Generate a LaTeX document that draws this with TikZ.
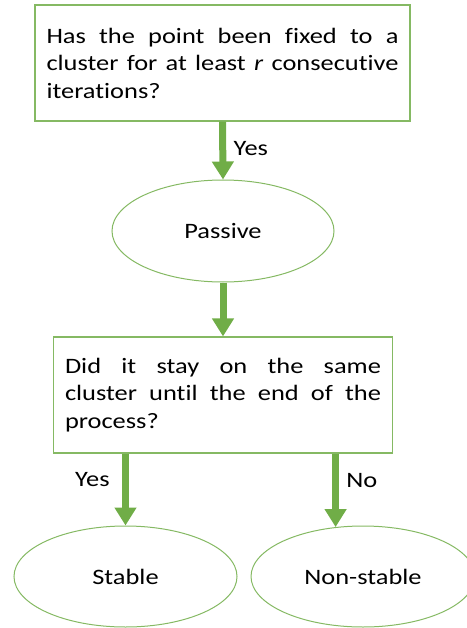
\documentclass[tikz,border=0pt]{standalone}
\usepackage{fontspec}
\setmainfont{Carlito}[FakeStretch=1.2, Ligatures={NoCommon,NoContextual,NoRare}, RawFeature={-calt;-clig}]
\usetikzlibrary{arrows.meta,shapes.geometric}
\definecolor{leafgreen}{HTML}{70AD47}

\begin{document}
\begin{tikzpicture}[x=1pt,y=-1pt,
		font=\fontsize{22}{27.5}\selectfont,
		question/.style={rectangle, draw=leafgreen!85, line width=1.2pt, text width=352pt, inner xsep=11.5pt, minimum height=116pt, align=justify},
		outcome/.style={ellipse, draw=leafgreen!85, line width=1pt, minimum width=222pt, minimum height=102pt, inner sep=0pt},
		flow/.style={draw=leafgreen, line width=7pt, -{Triangle[length=18pt,width=21pt]}}]
		\useasboundingbox (0,0) rectangle (466,628);

		\draw (222.5,63) node [question] (fixed) {Has the point been fixed to a\linebreak cluster for at least \textit{r} consecutive\linebreak iterations?};
		\draw (223,231) node [outcome] (passive) {Passive};
		\draw (223,395) node [question, text width=316pt] (same) {Did it stay on the same\linebreak cluster until the end of the\linebreak process?};
		\draw (125.5,576.5) node [outcome, minimum width=223pt, minimum height=101pt] (stable) {Stable};
		\draw (363,576.5) node [outcome, minimum width=224pt, minimum height=101pt] (nonstable) {Non-stable};

		\draw 
		(fixed.south) edge [flow] node [right, pos=.46, xshift=4pt] {Yes} (passive.north)
		(passive.south) edge [flow] (same.north)
		(same.south -| stable.north) edge [flow] node [left, pos=.36, xshift=-9pt] {Yes} (stable.north)
		(same.south -| nonstable.119) edge [flow] node [right, pos=.36, xshift=4pt] {No} (nonstable.119);
	\end{tikzpicture}
\end{document}
